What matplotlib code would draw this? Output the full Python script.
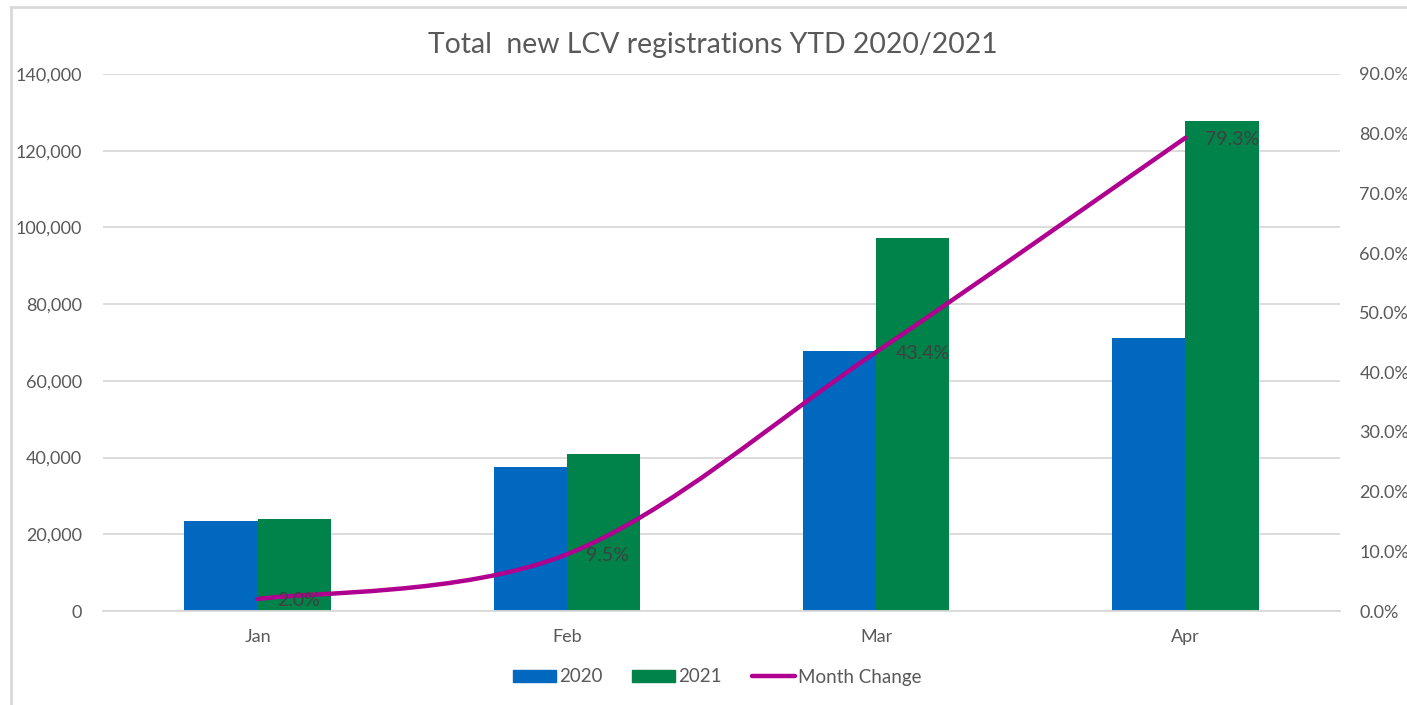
import numpy as np
import matplotlib
matplotlib.use("Agg")
import matplotlib.pyplot as plt
from matplotlib.path import Path
from matplotlib.patches import PathPatch
from matplotlib.lines import Line2D
from matplotlib.patches import Patch
from matplotlib.ticker import FuncFormatter

# Data ---------------------------------------------------------------------------------------
months = ["Jan", "Feb", "Mar", "Apr"]
reg_2020 = [23500, 37500, 67800, 71200]
reg_2021 = [23900, 41000, 97300, 127700]
month_change = [2.0, 9.5, 43.4, 79.3]   # percent

# Style --------------------------------------------------------------------------------------
plt.rcParams['font.family'] = ['Lato', 'DejaVu Sans']
c_2020 = "#0068BF"
c_2021 = "#00834A"
c_line = "#B0008F"
c_text = "#595959"
c_grid = "#D9D9D9"
fs = 13

fig = plt.figure(figsize=(14.07, 7.05), dpi=100)
ax = fig.add_axes([103/1407, 1 - 611/705, (1340 - 103)/1407, (611 - 74)/705])
ax2 = ax.twinx()

x = np.arange(len(months))
w = 0.237
ax.bar(x - w/2, reg_2020, width=w, color=c_2020, zorder=2)
ax.bar(x + w/2, reg_2021, width=w, color=c_2021, zorder=2)

ax.set_xlim(-0.5, len(months) - 0.5)
ax.set_ylim(0, 140000)
ax.set_yticks(np.arange(0, 140001, 20000))
ax.yaxis.set_major_formatter(FuncFormatter(lambda v, p: f"{int(v):,}"))
ax.set_xticks(x)
ax.set_xticklabels(months)
ax.grid(axis='y', color=c_grid, linewidth=1.3, zorder=0)
ax.set_axisbelow(True)
for s in ax.spines.values():
    s.set_visible(False)
ax.spines['bottom'].set_visible(True)
ax.spines['bottom'].set_color(c_grid)
ax.spines['bottom'].set_linewidth(1.3)
ax.tick_params(axis='both', length=0, labelsize=fs, colors=c_text)
ax.tick_params(axis='y', pad=15)
ax.tick_params(axis='x', pad=13)

# smoothed line (Excel style bezier through the points)
ax2.set_ylim(0, 90)
ax2.set_yticks(np.arange(0, 91, 10))
ax2.yaxis.set_major_formatter(FuncFormatter(lambda v, p: f"{v:.1f}%"))
ax2.tick_params(axis='y', length=0, labelsize=fs, colors=c_text, pad=14)
for s in ax2.spines.values():
    s.set_visible(False)

pts = np.column_stack([x, month_change]).astype(float)
n = len(pts)
verts = [pts[0]]
codes = [Path.MOVETO]
for i in range(n - 1):
    p0 = pts[max(i - 1, 0)]
    p1 = pts[i]
    p2 = pts[i + 1]
    p3 = pts[min(i + 2, n - 1)]
    verts += [p1 + (p2 - p0) / 6, p2 - (p3 - p1) / 6, p2]
    codes += [Path.CURVE4] * 3
ax2.add_patch(PathPatch(Path(verts, codes), facecolor='none', edgecolor=c_line,
                        linewidth=3.2, capstyle='round', zorder=3))

for xi, v in zip(x, month_change):
    ax2.annotate(f"{v:.1f}%", (xi, v), xytext=(14, -1), textcoords='offset points',
                 ha='left', va='center', fontsize=14, color="#404040", zorder=4)

fig.text(713/1407, 1 - 45/705, "Total  new LCV registrations YTD 2020/2021", ha='center',
         va='center', fontsize=20.4, color=c_text)

handles = [Patch(color=c_2020), Patch(color=c_2021),
           Line2D([], [], color=c_line, linewidth=3.2, solid_capstyle='round')]
fig.legend(handles, ["2020", "2021", "Month Change"], loc='center',
           bbox_to_anchor=(717/1407, 1 - 677/705), ncol=3, frameon=False, fontsize=13.5,
           labelcolor=c_text, handlelength=2.3, handleheight=0.55, handletextpad=0.15,
           columnspacing=1.6)

# chart border
fig.add_artist(Line2D([11/1407, 11/1407], [0, 1 - 7/705], color=c_grid, linewidth=2,
                      transform=fig.transFigure))
fig.add_artist(Line2D([11/1407, 1], [1 - 7/705, 1 - 7/705], color=c_grid, linewidth=2,
                      transform=fig.transFigure))

fig.savefig("out.png", dpi=100)
